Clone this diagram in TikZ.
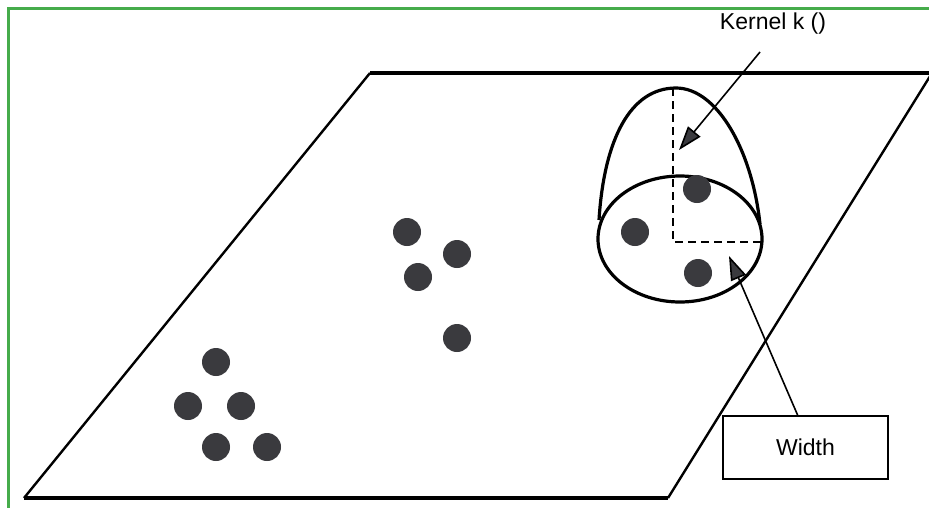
\documentclass[tikz,border=0pt]{standalone}
\usepackage{fontspec}
\setmainfont{Liberation Sans}
\usetikzlibrary{arrows.meta}
\definecolor{frameg}{RGB}{70,172,75}
\definecolor{dotc}{RGB}{58,58,62}
\tikzset{
  dot/.style={circle,fill=dotc,minimum size=28pt,inner sep=0pt},
  edge/.style={line width=2.4pt,black},
  hedge/.style={line width=3.2pt,black},
  kline/.style={line width=3.2pt,black},
  dashln/.style={line width=2.2pt,dash pattern=on 8pt off 5pt},
  ptr/.style={line width=1.6pt,-{Triangle[length=24pt,width=16pt,fill=dotc]}},
  lbl/.style={font=\fontsize{23}{26}\selectfont,inner sep=0pt},
  wbox/.style={draw,line width=2.8pt,minimum width=165pt,minimum height=63pt,inner sep=0pt,font=\fontsize{23}{26}\selectfont}
}
\begin{document}
\begin{tikzpicture}[x=1pt,y=-1pt]
\useasboundingbox (0,0) rectangle (929,507);
\fill[white] (0,0) rectangle (929,507);
% green frame (top and left visible)
\draw[frameg,line width=3pt] (8,520) -- (8,8) -- (940,8);
% plane
\coordinate (tl) at (370,73);
\coordinate (tr) at (932,73);
\coordinate (br) at (668,498);
\coordinate (bl) at (24,498);
\draw[hedge] (tl) -- (tr);
\draw[hedge] (bl) -- (br);
\draw[edge] (bl) -- (tl);
\draw[edge] (tr) -- (br);
% kernel
\draw[kline] (680,239) ellipse [x radius=82, y radius=63];
\draw[kline] (599,220) .. controls (604,140) and (630,88) .. (676,88)
  .. controls (717,88) and (752,150) .. (760,224);
\coordinate (ktop) at (673,88);
\coordinate (kc) at (673,242);
\coordinate (kr) at (762,242);
\draw[dashln] (ktop) -- (kc) -- (kr);
% dots
\node[dot] (d1) at (697,189) {};
\node[dot] (d2) at (635,232) {};
\node[dot] (d3) at (698,273) {};
\node[dot] (d4) at (407,232) {};
\node[dot] (d5) at (457,254) {};
\node[dot] (d6) at (418,277) {};
\node[dot] (d7) at (457,338) {};
\node[dot] (d8) at (216,362) {};
\node[dot] (d9) at (188,406) {};
\node[dot] (d10) at (241,406) {};
\node[dot] (d11) at (216,447) {};
\node[dot] (d12) at (267,447) {};
% labels
\node[lbl] (klabel) at (773,24) {Kernel k ()};
\node[wbox] (wb) at (805.5,447.5) {Width};
\coordinate (kstart) at (760,52);
\coordinate (ktip) at (679,150);
\coordinate (wstart) at (798,416);
\coordinate (wtip) at (729,256);
\draw[ptr] (kstart) -- (ktip);
\draw[ptr] (wstart) -- (wtip);
\end{tikzpicture}
\end{document}
